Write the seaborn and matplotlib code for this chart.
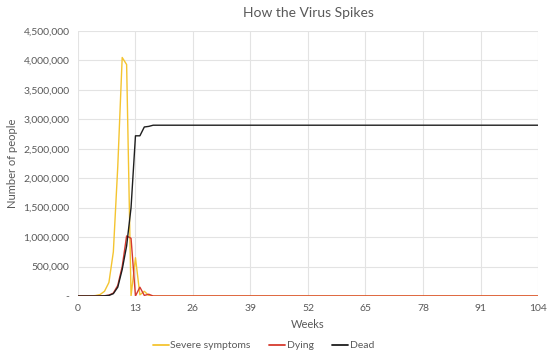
import numpy as np
import pandas as pd
import matplotlib.pyplot as plt
import seaborn as sns
from matplotlib.ticker import FuncFormatter

# weeks 0..104, values (early weeks explicit, then flat)
weeks = list(range(105))
severe = [0, 0, 0, 2e3, 8e3, 25e3, 80e3, 230e3, 750e3, 2.2e6, 4.05e6, 3.93e6,
          0, 650e3, 20e3, 80e3, 10e3] + [0] * 88
dying = [0, 0, 0, 0, 0, 2e3, 5e3, 15e3, 50e3, 180e3, 500e3, 1.02e6,
         0.98e6, 0, 150e3, 10e3, 30e3] + [0] * 88
dead = [0, 0, 0, 0, 0, 1e3, 3e3, 10e3, 40e3, 150e3, 450e3, 850e3,
        1.5e6, 2.72e6, 2.72e6, 2.87e6, 2.88e6] + [2.9e6] * 88

series_names = ["Severe symptoms", "Dying", "Dead"]
colors = ["#F4C430", "#D53A2E", "#1E1E1E"]

df = pd.DataFrame({"Weeks": weeks * 3,
                   "value": severe + dying + dead,
                   "series": [n for n in series_names for _ in weeks]})

sns.set_theme(style="whitegrid")
plt.rcParams['font.family'] = ['Lato', 'DejaVu Sans']
txt = "#595959"

fig = plt.figure(figsize=(5.49, 3.56), dpi=100)
ax = fig.add_axes([0.142, 0.1685, 0.838, 0.7445])
sns.lineplot(data=df, x="Weeks", y="value", hue="series", palette=colors,
             linewidth=1.0, ax=ax, legend=False)

ax.set_xlim(0, 104)
ax.set_ylim(0, 4500000)
ax.set_xticks(range(0, 105, 13))
ax.set_yticks(range(0, 4500001, 500000))
ax.yaxis.set_major_formatter(FuncFormatter(lambda v, p: "-" if v == 0 else f"{int(v):,}"))
ax.grid(True, color="#E3E3E3", linewidth=0.8)
for s in ax.spines.values():
    s.set_visible(False)
ax.tick_params(axis="both", length=0, labelsize=7.5, labelcolor=txt, pad=6)
ax.set_xlabel("Weeks", fontsize=8, color=txt, labelpad=4)
ax.set_ylabel("Number of people", fontsize=8, color=txt, labelpad=4)
ax.set_title("How the Virus Spikes", fontsize=10, color=txt, pad=10)

handles = [plt.Line2D([], [], color=c, linewidth=1.3) for c in colors]
fig.legend(handles, series_names, loc="lower center", ncol=3, frameon=False,
           fontsize=7.5, labelcolor=txt, handlelength=1.5, handletextpad=0.15,
           columnspacing=1.8, bbox_to_anchor=(0.48, -0.01))

plt.savefig("out.png", dpi=100)
